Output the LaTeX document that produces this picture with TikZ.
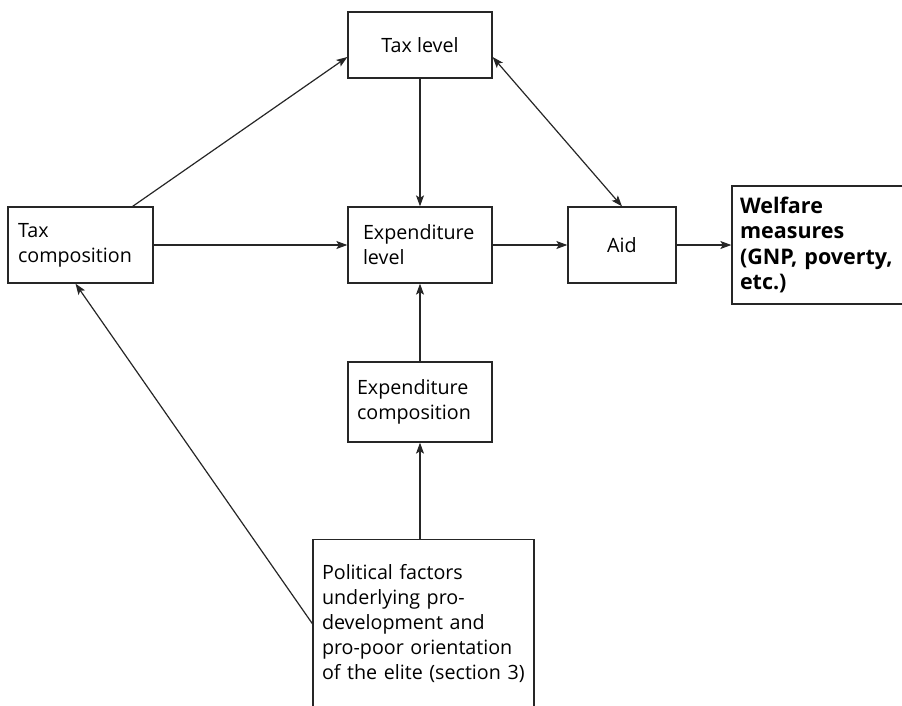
\documentclass[tikz,border=0pt]{standalone}
\usepackage{fontspec}
\setmainfont{Open Sans}
\usetikzlibrary{arrows.meta}
\tikzset{
    box/.style={draw=black!85, line width=1.3pt, inner ysep=0pt, align=left,
        font=\fontsize{19.7}{25}\selectfont},
    conn/.style={draw=black!85, line width=1.2pt, ->},
    >={Stealth[length=11pt,width=8pt,inset=2.5pt]}
}

\begin{document}
\begin{tikzpicture}[x=1pt,y=-1pt]
    \clip (0,0) rectangle (902,705);

	\node[box, align=center, minimum width=144pt, minimum height=66pt] (taxlevel) at (420,45) {Tax level};

	\node[box, inner xsep=10pt, text width=125pt, minimum height=76pt] (taxcomp) at (80.5,245) {Tax\\composition};
	\node[box, inner xsep=15pt, text width=114pt, minimum height=76pt] (explevel) at (420,245) {Expenditure\\level};
	\node[box, align=center, minimum width=108pt, minimum height=76pt] (aid) at (622,245) {Aid};
	\node[box, inner xsep=8pt, text width=175pt, minimum height=118pt, font=\fontsize{21.5}{25.5}\selectfont\bfseries] (welfare) at (827.5,245) {Welfare\\measures\\(GNP, poverty,\\etc.)};

	\node[box, inner xsep=9pt, text width=126pt, minimum height=80pt] (expcomp) at (420,402) {Expenditure\\composition};
	\node[box, anchor=north, inner xsep=9pt, text width=203pt, minimum height=190pt] (political) at (423.5,539) {Political factors\\underlying pro-\\development and\\pro-poor orientation\\of the elite (section~3)\\~};

	% arrows
	\draw[conn] ([xshift=-21pt]taxcomp.north east) -- ([yshift=-12pt]taxlevel.west);
	\draw[conn] (taxcomp) -- (explevel);
	\draw[conn] (taxlevel) -- (explevel);
	\draw[conn, <->] ([yshift=-12pt]taxlevel.east) -- (aid.north);
	\draw[conn] (explevel) -- (aid);
	\draw[conn] (aid) -- (welfare);
	\draw[conn] (expcomp) -- (explevel);
	\draw[conn] (political.north -| expcomp.south) -- (expcomp.south);
	\draw[conn] ([yshift=11pt]political.west) -- ([xshift=-5pt]taxcomp.south);
\end{tikzpicture}
\end{document}
